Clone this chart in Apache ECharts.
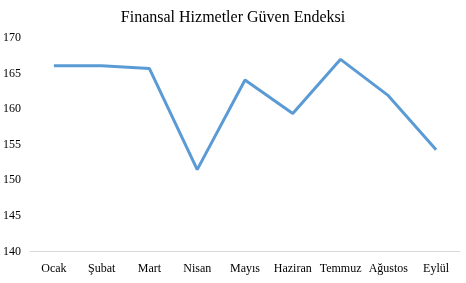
<!DOCTYPE html>
<html><head><meta charset="utf-8">
<script src="https://cdn.jsdelivr.net/npm/echarts@6/dist/echarts.min.js"></script>
<style>html,body{margin:0;padding:0;background:#fff}#c{width:466px;height:283px}</style>
</head><body><div id="c"></div>
<script>
const categories = ['Ocak','Şubat','Mart','Nisan','Mayıs','Haziran','Temmuz','Ağustos','Eylül'];
const values = [166.1, 166.1, 165.7, 151.5, 164.1, 159.4, 167.0, 161.9, 154.3];
const yTicks = [140, 145, 150, 155, 160, 165, 170];
const titleText = 'Finansal Hizmetler Güven Endeksi';

const chart = echarts.init(document.getElementById('c'));
chart.setOption({
  animation: false,
  title: {text: titleText, left: 'center', top: 5,
    textStyle: {fontFamily: 'Liberation Serif', fontSize: 16, fontWeight: 'normal', color: '#000'}},
  grid: {left: 30, right: 6, top: 38, bottom: 31.5},
  xAxis: {type: 'category', data: categories, boundaryGap: true,
    axisLine: {lineStyle: {color: '#d9d9d9', width: 1}},
    axisTick: {show: false},
    axisLabel: {fontFamily: 'Liberation Serif', fontSize: 12, color: '#000', margin: 11, interval: 0}},
  yAxis: {type: 'value', min: yTicks[0], max: yTicks[yTicks.length-1], interval: 5,
    splitLine: {show: false}, axisLine: {show: false}, axisTick: {show: false},
    axisLabel: {fontFamily: 'Liberation Serif', fontSize: 12, color: '#000', margin: 27, align: 'left'}},
  series: [{type: 'line', data: values, symbol: 'none',
    lineStyle: {color: '#5b9bd5', width: 3}, itemStyle: {color: '#5b9bd5'}}]
});
</script></body></html>
